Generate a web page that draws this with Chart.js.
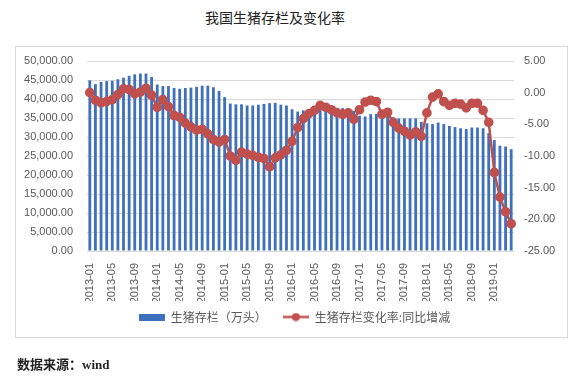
<!DOCTYPE html>
<html>
<head>
<meta charset="utf-8">
<script src="https://cdn.jsdelivr.net/npm/chart.js@4"></script>
<style>
  body { margin: 0; background: #fff; }
  #wrap { position: relative; width: 580px; height: 381px; overflow: hidden; }
  #title { position: absolute; left: 0; top: 7px; width: 550px; text-align: center;
           font: 14px "Noto Sans CJK SC", sans-serif; color: #222; }
  #frame { position: absolute; left: 15px; top: 46px; width: 551px; height: 290px;
           border: 1px solid #d9d9d9; }
  #source { position: absolute; left: 17px; top: 354px;
            font: bold 13px "Liberation Serif", "Noto Sans CJK SC", serif; color: #222; }
  canvas { position: absolute; left: 0; top: 0; }
</style>
</head>
<body>
<div id="wrap">
  <div id="title">我国生猪存栏及变化率</div>
  <div id="frame"></div>
  <canvas id="chart" width="580" height="381"></canvas>
  <div id="source">数据来源：wind</div>
</div>
<script>
// months 2013-01 .. 2019-04
const months = [];
for (let y = 2013; y <= 2019; y++) {
  for (let m = 1; m <= 12; m++) {
    if (y === 2019 && m > 4) break;
    months.push(y + "-" + String(m).padStart(2, "0"));
  }
}

// 生猪存栏（万头）
const stock2013 = [44900, 43900, 44500, 44700, 44800, 45200, 45600, 46100, 46500, 46700, 46700, 45800];
const stock2014 = [43800, 43400, 43400, 42900, 42700, 42900, 43000, 43200, 43500, 43500, 43100, 42100];
const stock2015 = [40500, 38800, 38600, 38600, 38300, 38300, 38500, 38700, 38900, 39000, 38500, 38300];
const stock2016 = [37300, 36700, 37000, 37000, 37300, 37400, 37700, 37600, 37700, 37600, 37600, 36900];
const stock2017 = [35600, 35400, 36000, 36100, 35800, 36000, 35200, 34900, 34900, 34900, 34900, 34000];
const stock2018 = [33600, 33400, 33800, 33400, 32900, 32600, 32300, 32100, 32500, 32500, 32300, 31000];
const stock2019 = [29200, 27700, 27500, 26800];

// 生猪存栏变化率:同比增减 (%)
const yoy2013 = [0.0, -1.2, -1.6, -1.4, -1.1, -0.3, 0.6, 0.5, -0.2, 0.1, 0.7, -0.4];
const yoy2014 = [-2.3, -1.1, -2.2, -3.6, -3.9, -4.8, -5.4, -5.9, -5.8, -6.5, -7.4, -7.8];
const yoy2015 = [-7.4, -10.0, -10.7, -9.4, -9.7, -9.9, -10.2, -10.4, -11.7, -10.3, -9.8, -9.1];
const yoy2016 = [-7.7, -5.5, -4.1, -3.3, -2.8, -2.0, -2.3, -2.7, -3.2, -3.4, -3.2, -4.2];
const yoy2017 = [-2.7, -1.5, -1.2, -1.4, -3.4, -3.1, -4.7, -5.6, -6.1, -6.7, -6.2, -6.9];
const yoy2018 = [-3.2, -0.7, -0.2, -1.4, -2.0, -1.7, -1.8, -2.4, -1.7, -1.7, -2.8, -4.7];
const yoy2019 = [-12.6, -16.5, -18.8, -20.7];

const stock = [].concat(stock2013, stock2014, stock2015, stock2016, stock2017, stock2018, stock2019);
const yoy = [].concat(yoy2013, yoy2014, yoy2015, yoy2016, yoy2017, yoy2018, yoy2019);

const barColor = "#3f70be";
const lineColor = "#c0504d";
const axisFont = { family: "Liberation Sans", size: 11 };

// legend swatches (wide bar, line with marker)
function barSwatch() {
  const c = document.createElement("canvas");
  c.width = 26; c.height = 7;
  const g = c.getContext("2d");
  g.fillStyle = barColor;
  g.fillRect(0, 0, 26, 7);
  return c;
}
function lineSwatch() {
  const c = document.createElement("canvas");
  c.width = 26; c.height = 9;
  const g = c.getContext("2d");
  g.strokeStyle = lineColor;
  g.lineWidth = 2.5;
  g.beginPath(); g.moveTo(0, 4.5); g.lineTo(26, 4.5); g.stroke();
  g.fillStyle = lineColor;
  g.beginPath(); g.arc(13, 4.5, 4, 0, Math.PI * 2); g.fill();
  return c;
}
const swatches = [barSwatch(), lineSwatch()];

const ctx = document.getElementById("chart").getContext("2d");
new Chart(ctx, {
  data: {
    labels: months,
    datasets: [
      {
        type: "bar",
        label: "生猪存栏（万头）",
        data: stock,
        backgroundColor: barColor,
        barPercentage: 0.5,
        categoryPercentage: 1,
        yAxisID: "y",
        order: 2,
      },
      {
        type: "line",
        label: "生猪存栏变化率:同比增减",
        data: yoy,
        borderColor: lineColor,
        backgroundColor: lineColor,
        borderWidth: 2.5,
        pointRadius: 3.6,
        pointBackgroundColor: lineColor,
        pointBorderColor: lineColor,
        tension: 0,
        yAxisID: "y1",
        order: 1,
      },
    ],
  },
  options: {
    responsive: false,
    animation: false,
    layout: { padding: { top: 61, left: 15, right: 6, bottom: 48 } },
    scales: {
      x: {
        grid: { display: false },
        border: { display: false },
        ticks: {
          autoSkip: false,
          maxRotation: 90,
          minRotation: 90,
          padding: 4,
          color: "#595959",
          font: axisFont,
          callback: function (v, i) {
            return i % 4 === 0 ? months[i] : "";
          },
        },
        afterFit: (s) => { s.height = 50; },
      },
      y: {
        position: "left",
        min: 0,
        max: 50000,
        grid: { color: "#d9d9d9", drawTicks: false },
        border: { display: false },
        ticks: {
          stepSize: 5000,
          padding: 14,
          color: "#595959",
          font: axisFont,
          callback: (v) => v.toLocaleString("en-US", { minimumFractionDigits: 2, maximumFractionDigits: 2 }),
        },
        afterFit: (s) => { s.width = 72; },
      },
      y1: {
        position: "right",
        min: -25,
        max: 5,
        grid: { display: false, drawTicks: false },
        border: { display: false },
        ticks: {
          stepSize: 5,
          padding: 10,
          color: "#595959",
          font: axisFont,
          callback: (v) => v.toFixed(2),
        },
        afterFit: (s) => { s.width = 60; },
      },
    },
    plugins: {
      legend: {
        position: "bottom",
        labels: {
          usePointStyle: true,
          pointStyleWidth: 26,
          boxHeight: 12,
          padding: 10,
          color: "#595959",
          font: { family: "Noto Sans CJK SC", size: 12 },
          sort: (a, b) => a.datasetIndex - b.datasetIndex,
          generateLabels: (chart) => {
            const items = Chart.defaults.plugins.legend.labels.generateLabels(chart);
            items.forEach((it) => {
              it.pointStyle = swatches[it.datasetIndex];
              if (it.datasetIndex === 0) it.text = it.text + "　";
            });
            return items;
          },
        },
      },
      title: { display: false },
      tooltip: { enabled: false },
    },
  },
});
</script>
</body>
</html>
